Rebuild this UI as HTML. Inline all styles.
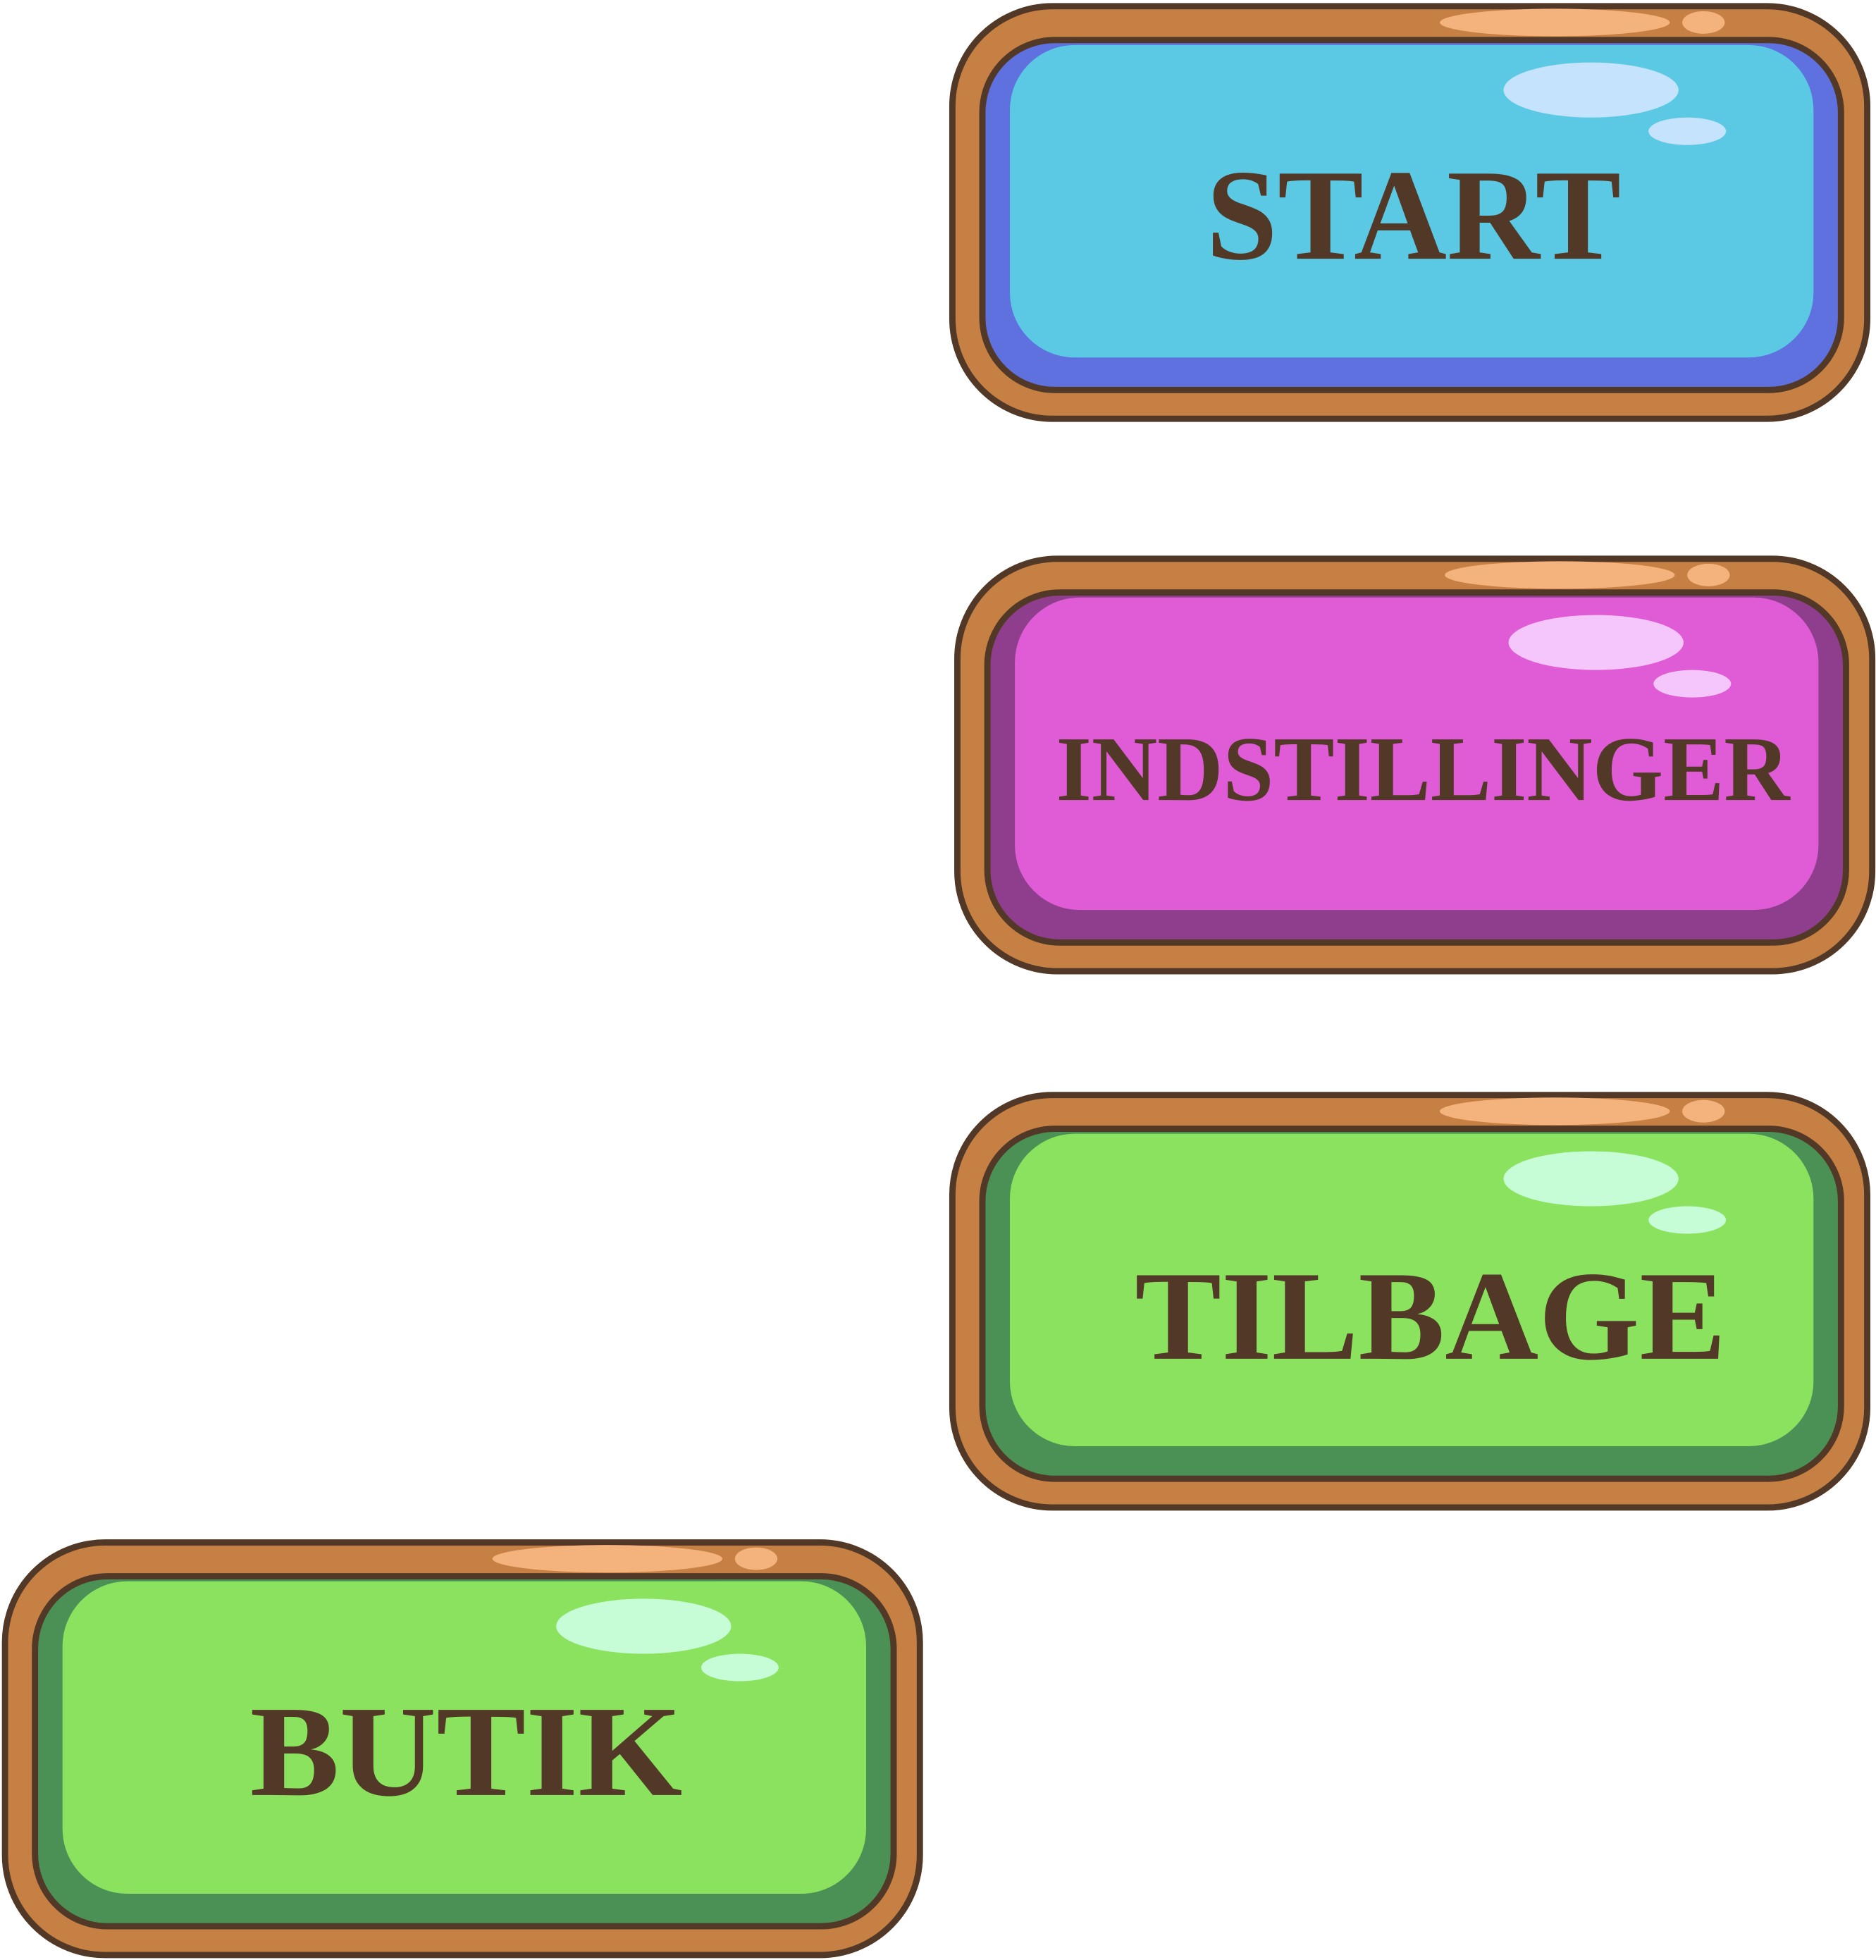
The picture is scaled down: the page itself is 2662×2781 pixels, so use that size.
<!DOCTYPE html>
<html><head><meta charset="utf-8"><style>html,body{margin:0;padding:0;background:#fff}svg{display:block}</style></head>
<body>
<svg width="2662" height="2781" viewBox="0 0 1501 1568" preserveAspectRatio="none" xmlns="http://www.w3.org/2000/svg">
<defs>
<g id="frame">
<rect x="762" y="5" width="732" height="330" rx="80" fill="#C68043" stroke="#523827" stroke-width="5"/>
<ellipse cx="1244" cy="18" rx="92" ry="11" fill="#F4B27D"/>
<ellipse cx="1363" cy="18" rx="17" ry="9" fill="#F4B27D"/>
</g>
</defs>
<g font-family="Liberation Serif, serif" font-weight="bold" fill="#523827">
<!-- START -->
<g>
<use href="#frame"/>
<rect x="786" y="32" width="687" height="280" rx="58" fill="#5F70DF" stroke="#523827" stroke-width="5"/>
<rect x="808" y="36" width="643" height="250" rx="52" fill="#5BC9E4"/>
<ellipse cx="1273" cy="72" rx="70" ry="22" fill="#C5E3FD"/>
<ellipse cx="1350" cy="105" rx="31" ry="11" fill="#C5E3FD"/>
<text x="965" y="207" font-size="104" textLength="332" lengthAdjust="spacingAndGlyphs">START</text>
</g>
<!-- INDSTILLINGER -->
<g transform="translate(4,442)">
<use href="#frame"/>
<rect x="786" y="32" width="687" height="280" rx="58" fill="#8E3E8C" stroke="#523827" stroke-width="5"/>
<rect x="808" y="36" width="643" height="250" rx="52" fill="#E05CD6"/>
<ellipse cx="1273" cy="72" rx="70" ry="22" fill="#F4C6FB"/>
<ellipse cx="1350" cy="105" rx="31" ry="11" fill="#F4C6FB"/>
<text x="841" y="198" font-size="74" textLength="587" lengthAdjust="spacingAndGlyphs">INDSTILLINGER</text>
</g>
<!-- TILBAGE -->
<g transform="translate(0,871)">
<use href="#frame"/>
<rect x="786" y="32" width="687" height="280" rx="58" fill="#4B9156" stroke="#523827" stroke-width="5"/>
<rect x="808" y="36" width="643" height="250" rx="52" fill="#8BE25E"/>
<ellipse cx="1273" cy="72" rx="70" ry="22" fill="#C6FDD6"/>
<ellipse cx="1350" cy="105" rx="31" ry="11" fill="#C6FDD6"/>
<text x="908" y="216" font-size="102" textLength="473" lengthAdjust="spacingAndGlyphs">TILBAGE</text>
</g>
<!-- BUTIK -->
<g transform="translate(-758,1229)">
<use href="#frame"/>
<rect x="786" y="32" width="687" height="280" rx="58" fill="#4B9156" stroke="#523827" stroke-width="5"/>
<rect x="808" y="36" width="643" height="250" rx="52" fill="#8BE25E"/>
<ellipse cx="1273" cy="72" rx="70" ry="22" fill="#C6FDD6"/>
<ellipse cx="1350" cy="105" rx="31" ry="11" fill="#C6FDD6"/>
<text x="958" y="207" font-size="104" textLength="346" lengthAdjust="spacingAndGlyphs">BUTIK</text>
</g>
</g>
</svg>
</body></html>
